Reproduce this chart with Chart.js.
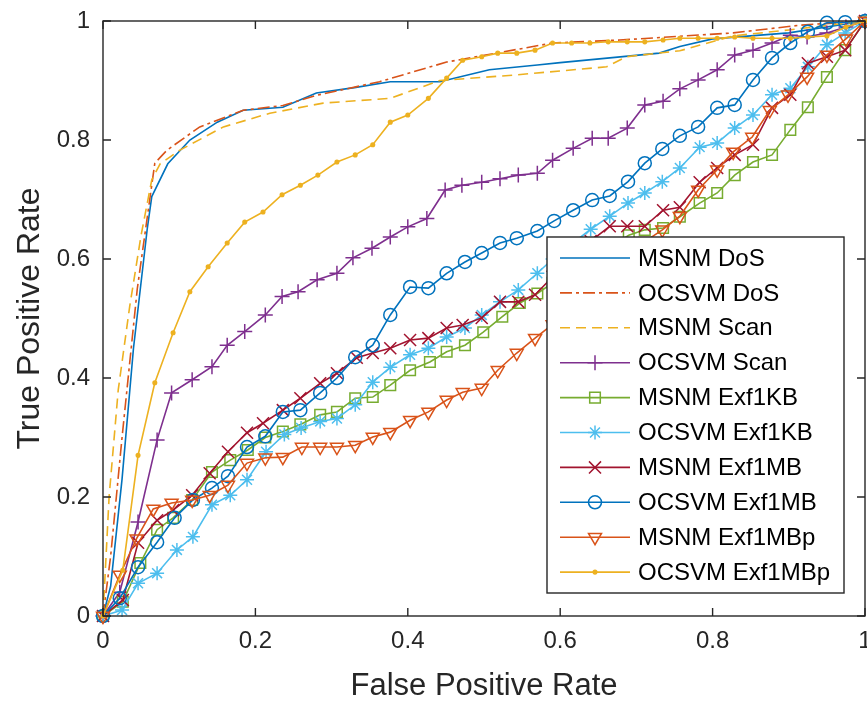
<!DOCTYPE html>
<html>
<head>
<meta charset="utf-8">
<script src="https://cdn.jsdelivr.net/npm/chart.js@4.4.0/dist/chart.umd.min.js"></script>
<style>
    html, body { margin: 0; padding: 0; background: #fff; }
    #wrap { width: 867px; height: 702px; }
</style>
</head>
<body>
<div id="wrap"><canvas id="rocChart" width="867" height="702"></canvas></div>
<script>
// ROC curves, values (FPR -> TPR)
const tickValues = [0, 0.2, 0.4, 0.6, 0.8, 1];

const msnmDosFpr = [0, 0.01, 0.025, 0.04, 0.058, 0.064, 0.085, 0.114, 0.15, 0.184, 0.236, 0.28, 0.33, 0.377, 0.442, 0.507, 0.57, 0.6, 0.73, 0.757, 0.8, 0.9, 1];
const msnmDosTpr = [0, 0.05, 0.23, 0.45, 0.65, 0.705, 0.76, 0.8, 0.83, 0.85, 0.855, 0.879, 0.888, 0.898, 0.898, 0.918, 0.926, 0.93, 0.946, 0.957, 0.97, 0.98, 1];

const ocsvmDosFpr = [0, 0.01, 0.025, 0.045, 0.068, 0.084, 0.127, 0.184, 0.236, 0.28, 0.363, 0.451, 0.59, 0.678, 0.827, 0.915, 1];
const ocsvmDosTpr = [0, 0.1, 0.3, 0.55, 0.761, 0.783, 0.822, 0.85, 0.858, 0.875, 0.898, 0.931, 0.963, 0.968, 0.98, 0.993, 1];

const msnmScanFpr = [0, 0.008, 0.02, 0.035, 0.05, 0.064, 0.075, 0.101, 0.158, 0.219, 0.289, 0.377, 0.442, 0.538, 0.661, 0.687, 0.757, 0.827, 0.9, 1];
const msnmScanTpr = [0, 0.2, 0.38, 0.52, 0.64, 0.733, 0.76, 0.783, 0.822, 0.845, 0.862, 0.87, 0.9, 0.909, 0.923, 0.94, 0.95, 0.975, 0.985, 1];

const ocsvmScanFpr = [0, 0.022, 0.046, 0.071, 0.09, 0.117, 0.143, 0.163, 0.186, 0.213, 0.235, 0.256, 0.281, 0.307, 0.328, 0.353, 0.377, 0.4, 0.425, 0.449, 0.471, 0.497, 0.521, 0.545, 0.57, 0.59, 0.617, 0.642, 0.663, 0.688, 0.711, 0.735, 0.757, 0.781, 0.806, 0.829, 0.853, 0.878, 0.902, 0.924, 0.95, 0.975, 1];
const ocsvmScanTpr = [0, 0.04, 0.158, 0.296, 0.375, 0.397, 0.419, 0.455, 0.478, 0.506, 0.537, 0.545, 0.565, 0.576, 0.602, 0.618, 0.637, 0.654, 0.668, 0.716, 0.724, 0.729, 0.735, 0.741, 0.744, 0.766, 0.786, 0.803, 0.803, 0.82, 0.859, 0.865, 0.886, 0.901, 0.918, 0.943, 0.951, 0.963, 0.976, 0.973, 0.98, 0.99, 1];

const msnmKbFpr = [0, 0.026, 0.049, 0.071, 0.092, 0.117, 0.143, 0.167, 0.19, 0.213, 0.236, 0.259, 0.285, 0.307, 0.331, 0.354, 0.377, 0.403, 0.429, 0.451, 0.475, 0.499, 0.524, 0.547, 0.57, 0.59, 0.615, 0.64, 0.665, 0.69, 0.711, 0.735, 0.757, 0.783, 0.806, 0.829, 0.853, 0.878, 0.902, 0.925, 0.95, 0.974, 1];
const msnmKbTpr = [0, 0.024, 0.089, 0.145, 0.165, 0.195, 0.242, 0.262, 0.279, 0.3, 0.31, 0.322, 0.338, 0.343, 0.366, 0.368, 0.388, 0.413, 0.427, 0.444, 0.455, 0.477, 0.503, 0.526, 0.542, 0.56, 0.585, 0.605, 0.62, 0.64, 0.649, 0.652, 0.671, 0.694, 0.711, 0.741, 0.763, 0.775, 0.817, 0.855, 0.906, 0.951, 1];

const ocsvmKbFpr = [0, 0.025, 0.046, 0.071, 0.097, 0.118, 0.143, 0.167, 0.189, 0.214, 0.238, 0.26, 0.285, 0.307, 0.331, 0.354, 0.377, 0.403, 0.427, 0.451, 0.475, 0.497, 0.521, 0.545, 0.57, 0.59, 0.615, 0.64, 0.665, 0.689, 0.711, 0.734, 0.757, 0.783, 0.806, 0.829, 0.853, 0.878, 0.902, 0.925, 0.95, 0.974, 1];
const ocsvmKbTpr = [0, 0.01, 0.055, 0.072, 0.111, 0.133, 0.187, 0.203, 0.229, 0.276, 0.305, 0.316, 0.327, 0.332, 0.355, 0.393, 0.418, 0.439, 0.45, 0.469, 0.484, 0.506, 0.528, 0.548, 0.576, 0.6, 0.625, 0.65, 0.672, 0.694, 0.711, 0.73, 0.753, 0.788, 0.795, 0.82, 0.842, 0.876, 0.887, 0.923, 0.96, 0.98, 1];

const msnmMbFpr = [0, 0.026, 0.046, 0.071, 0.092, 0.117, 0.14, 0.164, 0.189, 0.21, 0.236, 0.259, 0.285, 0.307, 0.333, 0.354, 0.377, 0.403, 0.427, 0.451, 0.472, 0.497, 0.521, 0.545, 0.567, 0.59, 0.615, 0.64, 0.665, 0.688, 0.711, 0.735, 0.757, 0.783, 0.806, 0.829, 0.853, 0.878, 0.902, 0.925, 0.95, 0.974, 1];
const msnmMbTpr = [0, 0.027, 0.123, 0.161, 0.178, 0.203, 0.24, 0.276, 0.308, 0.324, 0.346, 0.366, 0.391, 0.408, 0.434, 0.442, 0.45, 0.464, 0.467, 0.484, 0.489, 0.501, 0.528, 0.528, 0.54, 0.57, 0.6, 0.63, 0.655, 0.655, 0.655, 0.682, 0.687, 0.729, 0.753, 0.775, 0.792, 0.854, 0.876, 0.929, 0.94, 0.951, 1];

const ocsvmMbFpr = [0, 0.022, 0.046, 0.071, 0.094, 0.118, 0.143, 0.164, 0.189, 0.213, 0.236, 0.259, 0.285, 0.307, 0.331, 0.354, 0.377, 0.403, 0.427, 0.451, 0.475, 0.497, 0.521, 0.543, 0.57, 0.592, 0.617, 0.642, 0.665, 0.689, 0.711, 0.734, 0.757, 0.781, 0.806, 0.829, 0.853, 0.878, 0.902, 0.925, 0.95, 0.974, 1];
const ocsvmMbTpr = [0, 0.03, 0.082, 0.124, 0.165, 0.195, 0.215, 0.235, 0.284, 0.302, 0.343, 0.346, 0.375, 0.4, 0.435, 0.455, 0.506, 0.553, 0.551, 0.576, 0.595, 0.61, 0.627, 0.635, 0.647, 0.664, 0.682, 0.699, 0.706, 0.73, 0.761, 0.785, 0.807, 0.822, 0.854, 0.859, 0.901, 0.938, 0.963, 0.982, 0.997, 0.998, 1];

const msnmMbpFpr = [0, 0.022, 0.044, 0.066, 0.09, 0.117, 0.14, 0.164, 0.189, 0.213, 0.236, 0.261, 0.285, 0.307, 0.331, 0.354, 0.377, 0.403, 0.427, 0.451, 0.472, 0.497, 0.518, 0.543, 0.567, 0.59, 0.615, 0.64, 0.665, 0.69, 0.712, 0.734, 0.757, 0.781, 0.806, 0.827, 0.852, 0.875, 0.899, 0.924, 0.95, 0.975, 1];
const msnmMbpTpr = [0, 0.069, 0.13, 0.18, 0.19, 0.195, 0.203, 0.22, 0.257, 0.266, 0.267, 0.284, 0.284, 0.284, 0.287, 0.301, 0.309, 0.329, 0.343, 0.363, 0.376, 0.383, 0.413, 0.442, 0.467, 0.49, 0.52, 0.55, 0.58, 0.61, 0.63, 0.649, 0.672, 0.716, 0.75, 0.78, 0.805, 0.85, 0.876, 0.906, 0.943, 0.97, 1];

const ocsvmMbpFpr = [0, 0.026, 0.046, 0.068, 0.092, 0.114, 0.138, 0.163, 0.186, 0.21, 0.235, 0.259, 0.282, 0.307, 0.331, 0.354, 0.377, 0.4, 0.427, 0.451, 0.472, 0.497, 0.518, 0.543, 0.567, 0.59, 0.615, 0.639, 0.663, 0.688, 0.711, 0.735, 0.757, 0.781, 0.806, 0.829, 0.853, 0.878, 0.902, 0.925, 0.95, 0.975, 1];
const ocsvmMbpTpr = [0, 0.077, 0.27, 0.392, 0.476, 0.545, 0.587, 0.627, 0.662, 0.679, 0.708, 0.724, 0.741, 0.763, 0.775, 0.792, 0.83, 0.842, 0.87, 0.904, 0.934, 0.94, 0.946, 0.946, 0.951, 0.963, 0.963, 0.963, 0.965, 0.965, 0.965, 0.968, 0.971, 0.971, 0.971, 0.973, 0.971, 0.971, 0.971, 0.973, 0.975, 0.99, 1];

const seriesLabels = ['MSNM DoS', 'OCSVM DoS', 'MSNM Scan', 'OCSVM Scan', 'MSNM Exf1KB', 'OCSVM Exf1KB', 'MSNM Exf1MB', 'OCSVM Exf1MB', 'MSNM Exf1MBp', 'OCSVM Exf1MBp'];
const seriesFpr = [msnmDosFpr, ocsvmDosFpr, msnmScanFpr, ocsvmScanFpr, msnmKbFpr, ocsvmKbFpr, msnmMbFpr, ocsvmMbFpr, msnmMbpFpr, ocsvmMbpFpr];
const seriesTpr = [msnmDosTpr, ocsvmDosTpr, msnmScanTpr, ocsvmScanTpr, msnmKbTpr, ocsvmKbTpr, msnmMbTpr, ocsvmMbTpr, msnmMbpTpr, ocsvmMbpTpr];

// MATLAB default colour order
const seriesColors = ['#0072BD', '#D95319', '#EDB120', '#7E2F8E', '#77AC30', '#4DBEEE', '#A2142F', '#0072BD', '#D95319', '#EDB120'];

// line / marker look for each series
const seriesStyles = [
    { dash: [], marker: false },
    { dash: [12, 4, 3, 4], marker: false },
    { dash: [10, 6], marker: false },
    { dash: [], marker: 'cross', radius: 7.5 },
    { dash: [], marker: 'rect', radius: 7.5 },
    { dash: [], marker: 'star', radius: 7 },
    { dash: [], marker: 'crossRot', radius: 8.5 },
    { dash: [], marker: 'circle', radius: 6.5 },
    { dash: [], marker: 'triangle', radius: 7.5, rotation: 180 },
    { dash: [], marker: 'circle', radius: 1.8, filled: true }
];

const AXIS_COLOR = '#262626';
const FONT = '"Liberation Sans", Arial, Helvetica, sans-serif';

const datasets = seriesLabels.map((label, i) => {
    const st = seriesStyles[i];
    const color = seriesColors[i];
    return {
        label: label,
        data: seriesFpr[i].map((x, k) => ({ x: x, y: seriesTpr[i][k] })),
        borderColor: color,
        borderWidth: 1.6,
        borderDash: st.dash,
        tension: 0,
        fill: false,
        clip: false,
        order: seriesLabels.length - i,
        pointStyle: st.marker || 'circle',
        pointRadius: st.marker ? st.radius : 0,
        pointRotation: st.rotation || 0,
        pointBorderColor: color,
        pointBorderWidth: 1.5,
        pointBackgroundColor: st.filled ? color : 'rgba(0,0,0,0)',
        pointHoverRadius: 0
    };
});

// axes box with inward ticks (MATLAB style), drawn on top of the lines
const axesBox = {
    id: 'axesBox',
    afterDatasetsDraw(chart) {
        const { ctx, chartArea: a, scales: { x, y } } = chart;
        ctx.save();
        ctx.strokeStyle = AXIS_COLOR;
        ctx.lineWidth = 1.4;
        ctx.setLineDash([]);
        ctx.strokeRect(a.left, a.top, a.right - a.left, a.bottom - a.top);
        ctx.beginPath();
        tickValues.forEach(v => {
            const px = x.getPixelForValue(v);
            const py = y.getPixelForValue(v);
            ctx.moveTo(px, a.bottom); ctx.lineTo(px, a.bottom - 8);
            ctx.moveTo(px, a.top); ctx.lineTo(px, a.top + 8);
            ctx.moveTo(a.left, py); ctx.lineTo(a.left + 8, py);
            ctx.moveTo(a.right, py); ctx.lineTo(a.right - 8, py);
        });
        ctx.stroke();
        ctx.restore();
    }
};

// legend box inside the axes, lower right
const boxLegend = {
    id: 'boxLegend',
    afterDraw(chart) {
        const ctx = chart.ctx;
        const left = 547, top = 237, width = 297, height = 356;
        const rowTop = 258, rowStep = 34.9;
        ctx.save();
        ctx.fillStyle = '#fff';
        ctx.fillRect(left, top, width, height);
        ctx.strokeStyle = AXIS_COLOR;
        ctx.lineWidth = 1.4;
        ctx.strokeRect(left, top, width, height);

        seriesLabels.forEach((label, i) => {
            const st = seriesStyles[i];
            const color = seriesColors[i];
            const cy = rowTop + i * rowStep;
            ctx.strokeStyle = color;
            ctx.lineWidth = 1.6;
            ctx.setLineDash(st.dash);
            ctx.beginPath();
            ctx.moveTo(560, cy);
            ctx.lineTo(630, cy);
            ctx.stroke();
            ctx.setLineDash([]);
            if (st.marker) {
                ctx.strokeStyle = color;
                ctx.fillStyle = st.filled ? color : 'rgba(0,0,0,0)';
                ctx.lineWidth = 1.5;
                Chart.helpers.drawPoint(ctx, {
                    pointStyle: st.marker,
                    radius: st.radius,
                    rotation: st.rotation || 0,
                    borderWidth: 1.5
                }, 595, cy);
            }
            ctx.fillStyle = '#000';
            ctx.font = '24px ' + FONT;
            ctx.textAlign = 'left';
            ctx.textBaseline = 'middle';
            ctx.fillText(label, 638, cy + 1);
        });
        ctx.restore();
    }
};

const tickLabel = v => String(+v.toFixed(1));

new Chart(document.getElementById('rocChart'), {
    type: 'line',
    data: { datasets: datasets },
    options: {
        responsive: false,
        animation: false,
        devicePixelRatio: 1,
        layout: { autoPadding: false, padding: { top: 21, right: 2, left: 0, bottom: 0 } },
        plugins: {
            legend: { display: false },
            tooltip: { enabled: false }
        },
        scales: {
            x: {
                type: 'linear',
                min: 0,
                max: 1,
                grid: { display: false, drawTicks: false, tickLength: 0 },
                border: { display: false },
                ticks: {
                    stepSize: 0.2,
                    padding: 11,
                    maxRotation: 0,
                    color: AXIS_COLOR,
                    font: { family: FONT, size: 24 },
                    callback: tickLabel
                },
                title: {
                    display: true,
                    text: 'False Positive Rate',
                    color: AXIS_COLOR,
                    font: { family: FONT, size: 31, lineHeight: 1 },
                    padding: { top: 0, bottom: 0 }
                },
                afterFit(scale) {
                    scale.height = 86;
                    scale.paddingLeft = 0;
                    scale.paddingRight = 0;
                }
            },
            y: {
                type: 'linear',
                min: 0,
                max: 1,
                grid: { display: false, drawTicks: false, tickLength: 0 },
                border: { display: false },
                ticks: {
                    stepSize: 0.2,
                    padding: 13,
                    color: AXIS_COLOR,
                    font: { family: FONT, size: 24 },
                    callback: tickLabel
                },
                title: {
                    display: true,
                    text: 'True Positive Rate',
                    color: AXIS_COLOR,
                    font: { family: FONT, size: 32, lineHeight: 1 },
                    padding: { top: 14, bottom: 0 }
                },
                afterFit(scale) {
                    scale.width = 103;
                    scale.paddingTop = 0;
                    scale.paddingBottom = 0;
                }
            }
        }
    },
    plugins: [axesBox, boxLegend]
});
</script>
</body>
</html>
